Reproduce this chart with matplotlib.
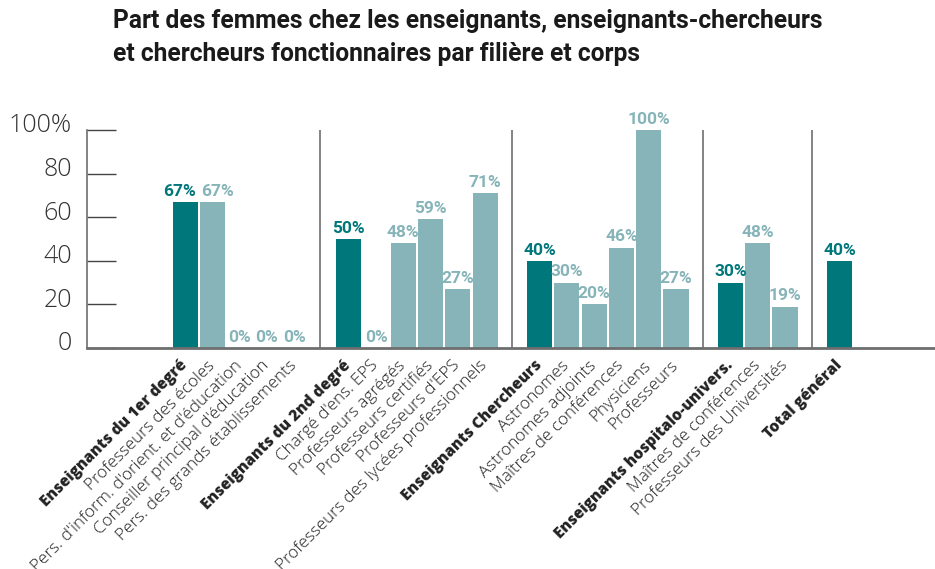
import matplotlib
matplotlib.use('Agg')
import matplotlib.pyplot as plt
from matplotlib.transforms import ScaledTranslation

# Données
labels = ["Enseignants du 1er degré", "Professeurs des écoles",
          "Pers. d'inform. d'orient. et d'éducation", "Conseiller principal d'éducation",
          "Pers. des grands établissements",
          "Enseignants du 2nd degré", "Chargé d'ens. EPS", "Professeurs agrégés",
          "Professeurs certifiés", "Professeurs d'EPS", "Professeurs des lycées professionnels",
          "Enseignants Chercheurs", "Astronomes", "Astronomes adjoints",
          "Maîtres de conférences", "Physiciens", "Professeurs",
          "Enseignants hospitalo-univers.", "Maîtres de conférences", "Professeurs des Universités",
          "Total général"]
values = [67, 67, 0, 0, 0,
          50, 0, 48, 59, 27, 71,
          40, 30, 20, 46, 100, 27,
          30, 48, 19,
          40]
is_total = [True, False, False, False, False,
            True, False, False, False, False, False,
            True, False, False, False, False, False,
            True, False, False,
            True]
group_sizes = [5, 6, 6, 3, 1]

dark = '#00777A'
light = '#86B4B8'
grey = '#6E6E6E'

# positions : un emplacement vide entre chaque groupe
positions = []
separators = []
x = 0
for g, n in enumerate(group_sizes):
    for i in range(n):
        positions.append(x)
        x += 1
    if g < len(group_sizes) - 1:
        separators.append(x)
        x += 1

fig = plt.figure(figsize=(9.35, 5.69), dpi=100)
ax = fig.add_axes([87/935, (569-348)/569, (935-87)/935, 218/569])

colors = [dark if t else light for t in is_total]
ax.bar(positions, values, width=0.92, color=colors, zorder=2)

# étiquettes de valeur (écartées quand deux barres voisines ont la même hauteur)
for i, (p, v, t) in enumerate(zip(positions, values, is_total)):
    dx = 0
    if v > 0 and i + 1 < len(values) and values[i + 1] == v and positions[i + 1] == p + 1:
        dx = -0.2
    elif v > 0 and i > 0 and values[i - 1] == v and positions[i - 1] == p - 1:
        dx = 0.2
    ax.text(p + dx, v + 1.5, f"{v}%", ha='center', va='bottom', fontsize=12.5,
            fontweight='bold', color=dark if t else light,
            family='Roboto', clip_on=False)

for s in separators:
    ax.axvline(s - 0.06 if s == separators[0] else s, ymin=0, ymax=1, color=grey, lw=1.2, zorder=1)

ax.set_xlim(positions[0] - 3.6, positions[-1] + 3.5)
ax.set_ylim(0, 100)

for sp in ['top', 'right']:
    ax.spines[sp].set_visible(False)
ax.spines['left'].set_color(grey)
ax.spines['left'].set_linewidth(1.2)
ax.spines['bottom'].set_color(grey)
ax.spines['bottom'].set_linewidth(2)

ax.set_yticks([0, 20, 40, 60, 80, 100])
ax.set_yticklabels(['0', '20', '40', '60', '80', '100%'])
ax.tick_params(axis='y', direction='in', length=21, width=1, color='#444444', pad=11,
               labelsize=18, labelcolor='#333333')
for lab in ax.get_yticklabels():
    lab.set_family('Open Sans')
    lab.set_fontweight('light')
    lab.set_transform(lab.get_transform() + ScaledTranslation(0, 7/100, fig.dpi_scale_trans))

ax.set_xticks(positions)
ax.set_xticklabels(labels, rotation=45, ha='right', va='center', rotation_mode='anchor')
ax.tick_params(axis='x', length=0, pad=11)
for lab, t in zip(ax.get_xticklabels(), is_total):
    lab.set_family('Open Sans')
    lab.set_color('#222222')
    if t:
        lab.set_fontsize(11.2)
        lab.set_fontweight(800)
    else:
        lab.set_fontsize(12.3)
        lab.set_fontweight('light')

fig.text(113/935, 1 - 9/569,
         "Part des femmes chez les enseignants, enseignants-chercheurs\n"
         "et chercheurs fonctionnaires par filière et corps",
         ha='left', va='top', fontsize=17.7, fontweight='bold', color='#1a1a1a',
         family='Roboto', linespacing=1.5)

fig.savefig('out.png', dpi=100)
